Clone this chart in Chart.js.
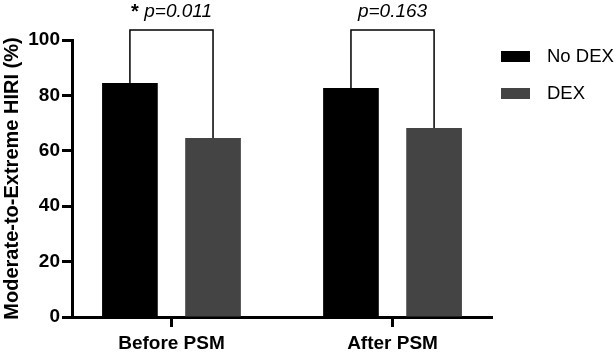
<!DOCTYPE html>
<html>
<head>
<meta charset="utf-8">
<script src="https://cdn.jsdelivr.net/npm/chart.js@4"></script>
<style>
  html, body { margin: 0; padding: 0; background: #fff; }
</style>
</head>
<body>
<canvas id="hiriChart" width="616" height="352"></canvas>
<script>
const categories = ["Before PSM", "After PSM"];
const noDex = [84.5, 82.7];
const dex = [64.6, 68.2];
const pLabels = ["p=0.011", "p=0.163"];
const stars = ["*", ""];
const yTicks = [0, 20, 40, 60, 80, 100];

const FONT = "'Liberation Sans', Arial, sans-serif";

// brackets + p values above each pair of bars
const bracketPlugin = {
  id: "brackets",
  afterDatasetsDraw(chart) {
    const ctx = chart.ctx;
    const barsA = chart.getDatasetMeta(0).data;
    const barsB = chart.getDatasetMeta(1).data;
    const top = 30;
    ctx.save();
    ctx.strokeStyle = "#000";
    ctx.lineWidth = 1.5;
    categories.forEach((c, i) => {
      const a = barsA[i], b = barsB[i];
      ctx.beginPath();
      ctx.moveTo(a.x, a.y);
      ctx.lineTo(a.x, top);
      ctx.lineTo(b.x, top);
      ctx.lineTo(b.x, b.y);
      ctx.stroke();

      const star = stars[i] ? stars[i] + " " : "";
      ctx.font = "bold 20px " + FONT;
      const starW = ctx.measureText(star).width;
      ctx.font = "italic 19px " + FONT;
      const pW = ctx.measureText(pLabels[i]).width;
      let x = (a.x + b.x) / 2 - (starW + pW) / 2;
      ctx.fillStyle = "#000";
      ctx.textBaseline = "middle";
      ctx.textAlign = "left";
      if (star) {
        ctx.font = "bold 20px " + FONT;
        ctx.fillText(star, x, 12);
        x += starW;
      }
      ctx.font = "italic 19px " + FONT;
      ctx.fillText(pLabels[i], x, 12);
    });
    ctx.restore();
  }
};

// legend at the right, built from the datasets
const legendPlugin = {
  id: "sideLegend",
  afterDraw(chart) {
    const ctx = chart.ctx;
    ctx.save();
    chart.data.datasets.forEach((ds, i) => {
      const y = 51 + i * 37;
      ctx.fillStyle = ds.backgroundColor;
      ctx.fillRect(501, y, 29, 11);
      ctx.fillStyle = "#000";
      ctx.font = "18.5px " + FONT;
      ctx.textBaseline = "middle";
      ctx.fillText(ds.label, 547, y + 6);
    });
    ctx.restore();
  }
};

new Chart(document.getElementById("hiriChart"), {
  type: "bar",
  data: {
    datasets: [
      {
        label: "No DEX",
        data: categories.map((c, i) => ({ x: i + 1, y: noDex[i] })),
        backgroundColor: "#000000",
        borderWidth: 0
      },
      {
        label: "DEX",
        data: categories.map((c, i) => ({ x: i + 1, y: dex[i] })),
        backgroundColor: "#444444",
        borderWidth: 0
      }
    ]
  },
  options: {
    responsive: false,
    animation: false,
    categoryPercentage: 0.752,
    barPercentage: 0.67,
    layout: { padding: { top: 40, right: 124, left: 0, bottom: 0 } },
    plugins: {
      legend: { display: false },
      tooltip: { enabled: false }
    },
    scales: {
      x: {
        type: "linear",
        min: 0.55,
        max: 2.45,
        offset: false,
        afterBuildTicks: s => { s.ticks = categories.map((c, i) => ({ value: i + 1 })); },
        afterFit: s => { s.height = 35; },
        ticks: {
          callback: v => categories[v - 1],
          color: "#000",
          padding: 5,
          font: { family: FONT, size: 19, weight: "bold" }
        },
        grid: { offset: false, drawOnChartArea: false, tickLength: 10, tickWidth: 3, tickColor: "#000" },
        border: { display: true, width: 3, color: "#000" }
      },
      y: {
        min: 0,
        max: 100,
        afterBuildTicks: s => { s.ticks = yTicks.map(v => ({ value: v })); },
        afterFit: s => { s.width = 72; },
        ticks: {
          color: "#000",
          padding: 2,
          font: { family: FONT, size: 19, weight: "bold" }
        },
        grid: { drawOnChartArea: false, tickLength: 10, tickWidth: 3, tickColor: "#000" },
        border: { display: true, width: 3, color: "#000" },
        title: {
          display: true,
          text: "Moderate-to-Extreme HIRI (%)",
          color: "#000",
          padding: 0,
          font: { family: FONT, size: 20, weight: "bold" }
        }
      }
    }
  },
  plugins: [bracketPlugin, legendPlugin]
});
</script>
</body>
</html>
